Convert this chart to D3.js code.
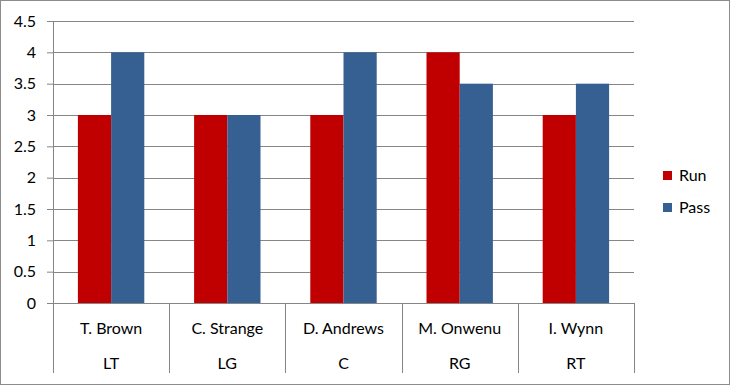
<!DOCTYPE html>
<html>
<head>
<meta charset="utf-8">
<script src="https://cdn.jsdelivr.net/npm/d3@7"></script>
<style>
  body { margin: 0; background: #fff; }
  svg { display: block; }
</style>
</head>
<body>
<svg id="chart" width="730" height="385"></svg>
<script>
// chart data
const players = ["T. Brown", "C. Strange", "D. Andrews", "M. Onwenu", "I. Wynn"];
const positions = ["LT", "LG", "C", "RG", "RT"];
const runValues = [3, 3, 3, 4, 3];
const passValues = [4, 3, 4, 3.5, 3.5];
const seriesNames = ["Run", "Pass"];
const seriesColors = ["#C00000", "#376092"];
const yTicks = [0, 0.5, 1, 1.5, 2, 2.5, 3, 3.5, 4, 4.5];

const plot = { left: 53, right: 634, top: 21, bottom: 303 };
const font = "Lato, 'Liberation Sans', sans-serif";
const gridColor = "#868686";

const svg = d3.select("#chart");

// outer border
svg.append("rect")
    .attr("x", 0.5).attr("y", 0.5)
    .attr("width", 729).attr("height", 384)
    .attr("fill", "#fff")
    .attr("stroke", "#8c8c8c");

const x = d3.scaleBand()
    .domain(players)
    .range([plot.left, plot.right]);

const y = d3.scaleLinear()
    .domain([0, 4.5])
    .range([plot.bottom, plot.top]);

// Excel-like gap width between clusters
const inner = d3.scaleBand()
    .domain(seriesNames)
    .range([0, x.bandwidth()])
    .paddingOuter(0.75);

// y axis + ticks
const yAxis = d3.axisLeft(y)
    .tickValues(yTicks)
    .tickSize(6)
    .tickFormat(d3.format("~g"));

const gy = svg.append("g")
    .attr("transform", `translate(${plot.left},0)`)
    .call(yAxis);
gy.select(".domain").attr("stroke", gridColor);
gy.selectAll(".tick line").attr("stroke", gridColor);
gy.selectAll(".tick text")
    .attr("x", -17)
    .attr("fill", "#000")
    .style("font", `16px ${font}`);

// gridlines
svg.append("g")
    .selectAll("line")
    .data(yTicks)
    .join("line")
    .attr("x1", plot.left)
    .attr("x2", plot.right)
    .attr("y1", d => Math.round(y(d)) + 0.5)
    .attr("y2", d => Math.round(y(d)) + 0.5)
    .attr("stroke", gridColor);

// bars
const series = [runValues, passValues];
const groups = svg.append("g")
    .selectAll("g")
    .data(players)
    .join("g")
    .attr("transform", d => `translate(${x(d)},0)`);

groups.selectAll("rect")
    .data((d, i) => seriesNames.map((s, j) => ({ s, j, v: series[j][i] })))
    .join("rect")
    .attr("x", d => inner(d.s))
    .attr("width", inner.bandwidth())
    .attr("y", d => y(d.v))
    .attr("height", d => y(0) - y(d.v))
    .attr("fill", d => seriesColors[d.j]);

// category axis with two levels
const sepBottom = 373;
svg.append("g")
    .selectAll("line")
    .data(d3.range(players.length + 1))
    .join("line")
    .attr("x1", i => Math.round(plot.left + i * x.bandwidth()) + 0.5)
    .attr("x2", i => Math.round(plot.left + i * x.bandwidth()) + 0.5)
    .attr("y1", plot.bottom)
    .attr("y2", sepBottom)
    .attr("stroke", gridColor);

svg.append("g")
    .selectAll("text")
    .data(players)
    .join("text")
    .attr("x", d => x(d) + x.bandwidth() / 2)
    .attr("y", 334)
    .attr("text-anchor", "middle")
    .style("font", `16px ${font}`)
    .text(d => d);

svg.append("g")
    .selectAll("text")
    .data(positions)
    .join("text")
    .attr("x", (d, i) => x(players[i]) + x.bandwidth() / 2)
    .attr("y", 369)
    .attr("text-anchor", "middle")
    .style("font", `16px ${font}`)
    .text(d => d);

// legend
const legend = svg.append("g")
    .selectAll("g")
    .data(seriesNames)
    .join("g")
    .attr("transform", (d, i) => `translate(663,${171 + i * 32})`);

legend.append("rect")
    .attr("width", 9).attr("height", 9)
    .attr("fill", (d, i) => seriesColors[i]);

legend.append("text")
    .attr("x", 16)
    .attr("y", 10)
    .style("font", `16px ${font}`)
    .text(d => d);
</script>
</body>
</html>
